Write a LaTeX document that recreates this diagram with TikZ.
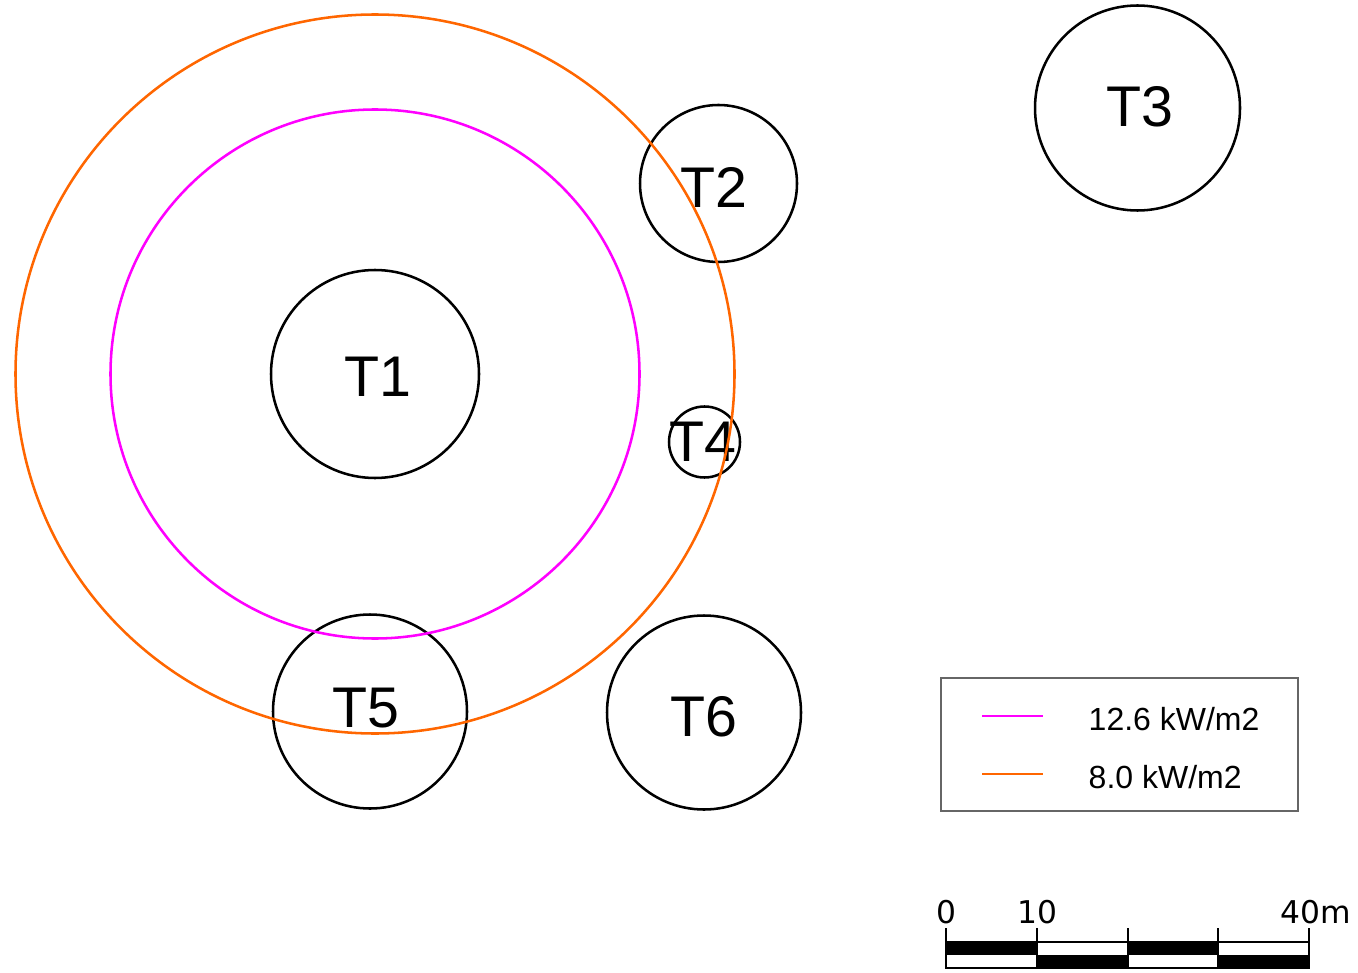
\documentclass[tikz,border=0pt]{standalone}
\usepackage{fontspec}
\setmainfont{Liberation Sans}
\newfontfamily\barfont{DejaVu Sans}
\definecolor{zonea}{RGB}{255,0,255}
\definecolor{zoneb}{RGB}{255,102,0}
\tikzset{tank/.style={line width=1.9pt},
  zone/.style={line width=1.9pt},
  tanklabel/.style={font=\fontsize{43}{43}\selectfont},
  keylabel/.style={anchor=west,font=\fontsize{24}{24}\selectfont},
  barlabel/.style={anchor=base,font=\barfont\fontsize{23.5}{23.5}\selectfont,inner sep=0pt}}

\begin{document}
\begin{tikzpicture}[x=0.75pt,y=-0.75pt]
\useasboundingbox (0,0) rectangle (1358,973);

% Centres of the tanks
\coordinate (C1) at (375,374);
\coordinate (C2) at (718.5,183.5);
\coordinate (C3) at (1137.5,108);
\coordinate (C4) at (704.5,442);
\coordinate (C5) at (370,711.5);
\coordinate (C6) at (704,712.5);

% Draw the tanks
\draw [tank] (C1) circle (104);
\draw [tank] (C2) circle (78.5);
\draw [tank] (C3) circle (102.5);
\draw [tank] (C4) circle (35.5);
\draw [tank] (C5) circle (97);
\draw [tank] (C6) circle (97);

% Label the tanks
\node [tanklabel] (T1) at (378,377) {T1};
\node [tanklabel] (T2) at (714,187) {T2};
\node [tanklabel] (T3) at (1140,107) {T3};
\node [tanklabel] (T4) at (703,442) {T4};
\node [tanklabel] (T5) at (366,708) {T5};
\node [tanklabel] (T6) at (704,717) {T6};

% Radiation zones round T1
\draw [zone,zoneb] (C1) circle (359.5);
\draw [zone,zonea] (C1) circle (264.5);

% Legend
\draw [line width=1pt,black!60] (941,678) rectangle (1298,811);
\coordinate (ka) at (982,716);
\coordinate (kb) at (982,774);
\draw [zone,zonea] (ka) -- +(61,0);
\draw [zone,zoneb] (kb) -- +(61,0);
\node [keylabel] (la) at (1084,719) {12.6 kW/m2};
\node [keylabel] (lb) at (1084,777) {8.0 kW/m2};

% Scale bar
\foreach \i in {0,...,3} {
  \pgfmathsetmacro{\xa}{946+90.75*\i}
  \pgfmathsetmacro{\xb}{946+90.75*(\i+1)}
  \ifodd\i
    \fill (\xa,955) rectangle (\xb,968);
  \else
    \fill (\xa,942) rectangle (\xb,955);
  \fi
  \draw [line width=1.5pt] (\xa,942) rectangle (\xb,968);
}
\foreach \i in {0,...,4}
  \draw [line width=1.5pt] (946+90.75*\i,928) -- (946+90.75*\i,968);
\node [barlabel] (s0) at (946,923) {0};
\node [barlabel] (s1) at (1037,923) {10};
\node [barlabel,anchor=base west] (s4) at (1280,923) {40m};
\end{tikzpicture}
\end{document}
